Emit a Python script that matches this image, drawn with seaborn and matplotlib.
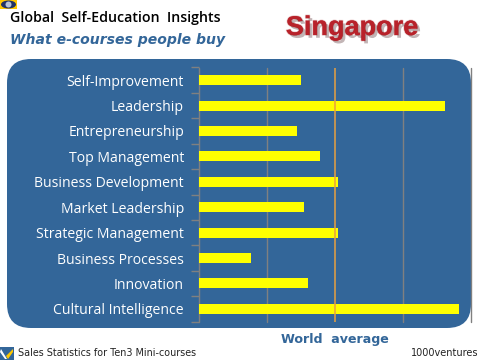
import matplotlib
matplotlib.use("Agg")
import matplotlib.pyplot as plt
import matplotlib.patheffects as pe
from matplotlib.patches import FancyBboxPatch, Rectangle, Ellipse, Polygon
import seaborn as sns
import pandas as pd

categories = ["Self-Improvement", "Leadership", "Entrepreneurship", "Top Management",
              "Business Development", "Market Leadership", "Strategic Management",
              "Business Processes", "Innovation", "Cultural Intelligence"]
values = [1.50, 3.62, 1.45, 1.78, 2.05, 1.55, 2.05, 0.77, 1.61, 3.82]
grid_values = [0, 1, 3, 4]
world_average = 2

W, H = 480, 360
BLUE = "#336699"
sns.set_theme(style="white")
plt.rcParams["font.family"] = ["Open Sans", "DejaVu Sans"]
fig = plt.figure(figsize=(W / 100, H / 100), dpi=100, facecolor="white")

bg = fig.add_axes([0, 0, 1, 1], zorder=0)
bg.set_xlim(0, W); bg.set_ylim(H, 0); bg.axis("off")
bg.add_patch(FancyBboxPatch((7, 59), 464, 269, boxstyle="round,pad=0,rounding_size=24",
                            fc=BLUE, ec="none"))
# corner logo
bg.add_patch(Rectangle((0, 0), 17, 9, fc="#FFC800", ec="none"))
bg.add_patch(Ellipse((8.5, 4.5), 15, 8, fc="#223366", ec="none"))
bg.add_patch(Ellipse((8.5, 4.5), 6, 6, fc="#B8C4D8", ec="none"))
# footer icon
bg.add_patch(Rectangle((0, 347), 14, 13, fc="#336699", ec="none"))
bg.add_patch(Polygon([[1, 349], [7, 359], [5, 359], [0, 352]], fc="white", ec="none"))
bg.add_patch(Polygon([[6, 356], [13, 349], [13, 352], [8, 359]], fc="#FFC800", ec="none"))

bg.text(10, 18, "Global  Self-Education  Insights", fontsize=10.2, fontweight="semibold",
        color="black", va="center", ha="left", family=["Open Sans", "DejaVu Sans"])
bg.text(10, 40, "What e-courses people buy", fontsize=10.1, fontweight="bold", style="italic",
        color=BLUE, va="center", ha="left", family="DejaVu Sans")
bg.text(352, 28, "Singapore", fontsize=19.5, fontweight="bold", color="#B8222A",
        va="center", ha="center", family="Liberation Sans",
        path_effects=[pe.withStroke(linewidth=1.2, foreground="#E8C8C8"),
                      pe.SimplePatchShadow(), pe.Normal()])
bg.text(334.5, 340, "World  average", fontsize=9.1, fontweight="bold", color=BLUE,
        va="center", ha="center", family="DejaVu Sans")
bg.text(18, 353.5, "Sales Statistics for Ten3 Mini-courses", fontsize=6.9, color="#222222",
        va="center", ha="left", family="DejaVu Sans")
bg.text(478, 353.5, "1000ventures", fontsize=7, color="#222222",
        va="center", ha="right", family="DejaVu Sans")

ax = fig.add_axes([198.5 / W, 1 - 321.5 / H, 272.5 / W, 254 / H], zorder=1)
ax.patch.set_alpha(0)
df = pd.DataFrame({"course": categories, "value": values})
sns.barplot(data=df, y="course", x="value", orient="h", color="#FFFF00", saturation=1,
            width=0.4, linewidth=0, ax=ax, zorder=3)
ax.set_xlim(0, 4)
ax.set_ylim(9.5, -0.5)
ax.set_xlabel(""); ax.set_ylabel("")
for g in grid_values:
    ax.axvline(g, color="#808080", lw=1, zorder=2, clip_on=False)
ax.axvline(world_average, color="#E8A040", lw=1.1, zorder=4)
for s in ax.spines.values():
    s.set_visible(False)
ax.set_xticks([])
ax.set_yticks([i - 0.5 for i in range(11)], minor=True)
ax.tick_params(axis="y", which="minor", length=6, width=1, color="#808080", left=True)
ax.tick_params(axis="y", which="major", length=0, pad=10.5, labelsize=10.1, labelcolor="white")
fig.savefig("out.png", dpi=100, facecolor="white")
